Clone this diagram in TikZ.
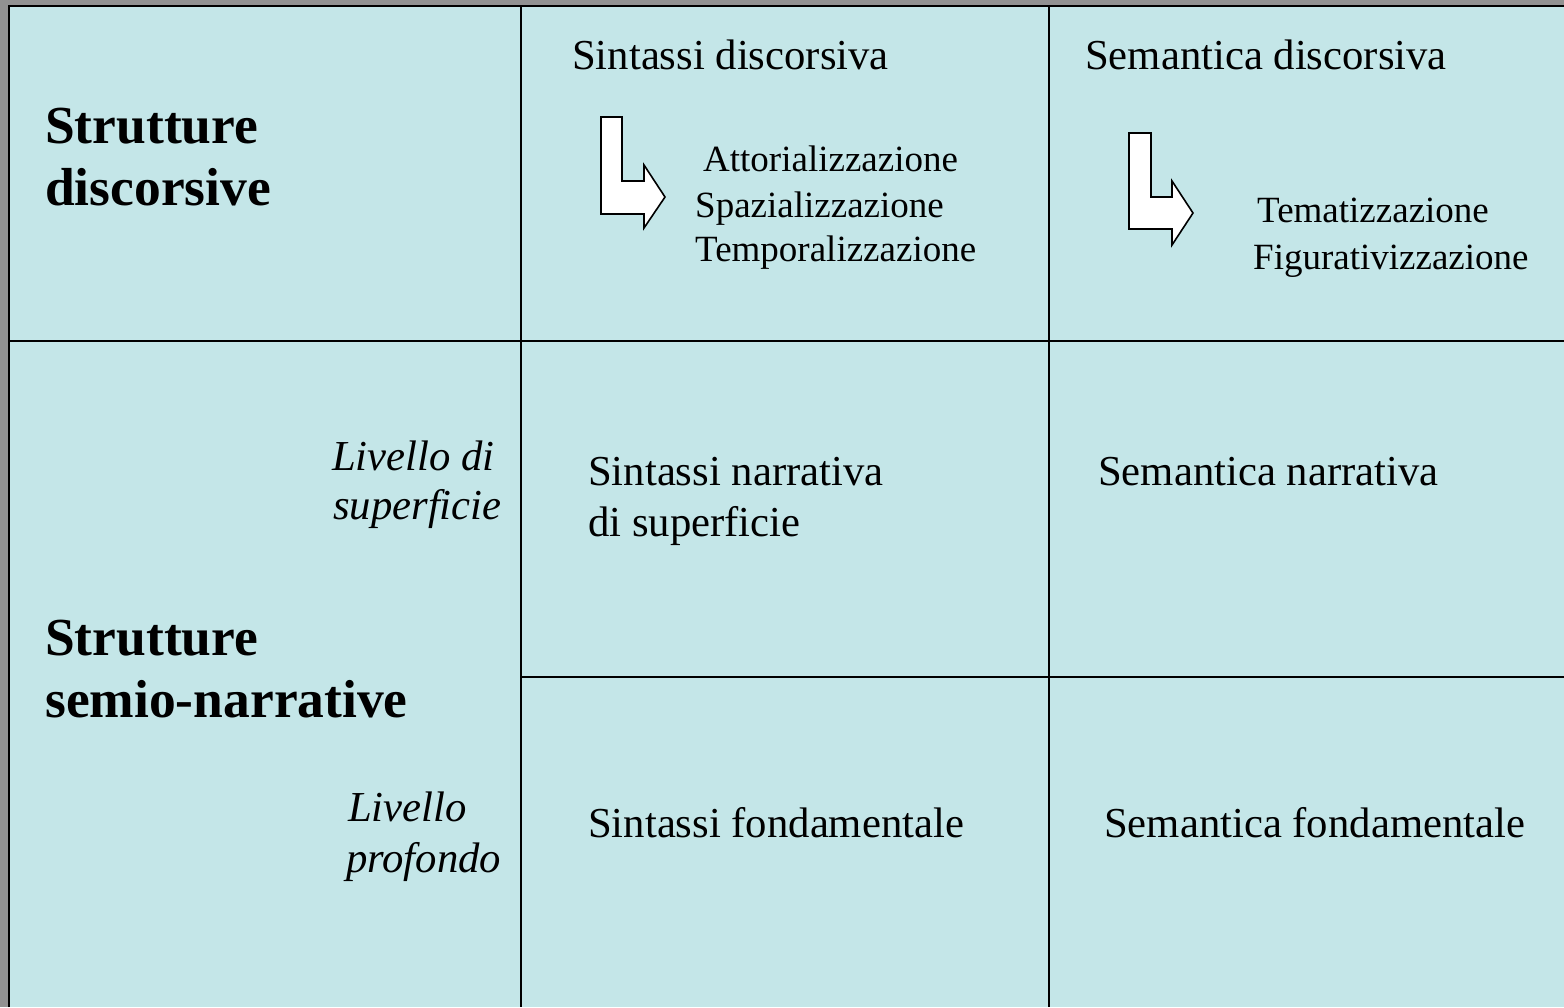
\documentclass[tikz,border=0pt]{standalone}
\usepackage{fontspec}
\setmainfont{Liberation Serif}
\definecolor{cellbg}{HTML}{C4E6E8}
\definecolor{outerbg}{HTML}{929292}
\begin{document}
\begin{tikzpicture}[x=1pt,y=-1pt,
  gridline/.style={line width=2.2pt,draw=black},
  txt/.style={anchor=base west,inner sep=0pt,font=\fontsize{42.7}{50}\selectfont},
  small/.style={anchor=base west,inner sep=0pt,font=\fontsize{37}{44}\selectfont},
  big/.style={anchor=base west,inner sep=0pt,font=\fontsize{53.5}{62}\selectfont\bfseries},
  ital/.style={anchor=base west,inner sep=0pt,font=\fontsize{42.7}{50}\selectfont\itshape},
  bentarrow/.style={fill=white,draw=black,line width=1.6pt,line join=miter}]
\useasboundingbox (0,0) rectangle (1564,1007);
\fill[outerbg] (0,0) rectangle (1564,1007);
\fill[cellbg] (9,6) rectangle (1564,1007);
% grid
\draw[gridline] (9,1007) -- (9,6) -- (1564,6);
\draw[gridline] (521,6) -- (521,1007);
\draw[gridline] (1049,6) -- (1049,1007);
\draw[gridline] (9,341) -- (1564,341);
\draw[gridline] (521,677) -- (1564,677);
% left column
\node[big] (sd1) at (45,143) {Strutture};
\node[big] (sd2) at (45,205) {discorsive};
\node[big] (sn1) at (45,655) {Strutture};
\node[big] (sn2) at (45,717) {semio-narrative};
\node[ital] (ls1) at (332,470) {Livello di};
\node[ital] (ls2) at (333,519) {superficie};
\node[ital] (lp1) at (348,821) {Livello};
\node[ital] (lp2) at (346,872) {profondo};
% top row
\node[txt] (sind) at (572,69) {Sintassi discorsiva};
\node[txt] (semd) at (1085,69) {Semantica discorsiva};
\node[small] (att) at (703,171) {Attorializzazione};
\node[small] (spa) at (695,217) {Spazializzazione};
\node[small] (tem) at (695,261) {Temporalizzazione};
\node[small] (tema) at (1257,222) {Tematizzazione};
\node[small] (fig) at (1253,269) {Figurativizzazione};
\draw[bentarrow] (601,117) -- (622,117) -- (622,181) -- (644,181) -- (644,165)
  -- (665,197) -- (644,228) -- (644,214) -- (601,214) -- cycle;
\draw[bentarrow] (1129,133) -- (1151,133) -- (1151,197) -- (1172,197) -- (1172,181)
  -- (1193,213) -- (1172,245) -- (1172,229) -- (1129,229) -- cycle;
% middle row
\node[txt] (snar1) at (588,485) {Sintassi narrativa};
\node[txt] (snar2) at (588,536) {di superficie};
\node[txt] (semn) at (1098,485) {Semantica narrativa};
% bottom row
\node[txt] (sf) at (588,837) {Sintassi fondamentale};
\node[txt] (semf) at (1104,837) {Semantica fondamentale};
\end{tikzpicture}
\end{document}
